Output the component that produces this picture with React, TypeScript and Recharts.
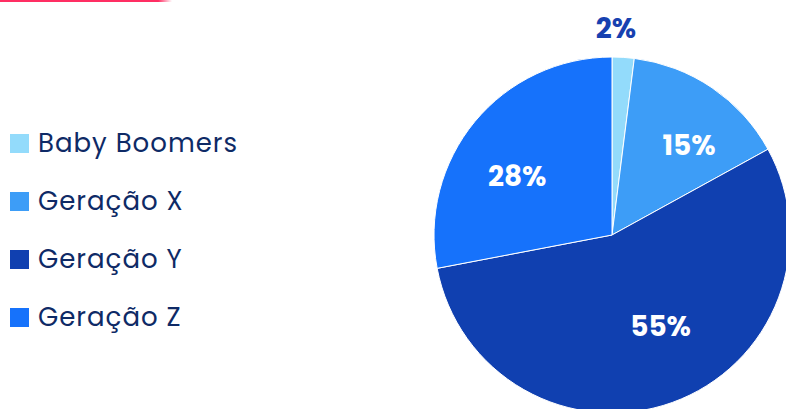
import { PieChart, Pie, Cell } from 'recharts';

const generations = ['Baby Boomers', 'Geração X', 'Geração Y', 'Geração Z'];
const shares = [2, 15, 55, 28];
const colors = ['#93dbfb', '#3d9df7', '#1040b0', '#1672fb'];

const data = generations.map((name, i) => ({ name, value: shares[i] }));

// small visual nudges so the labels sit where the original puts them
const labelNudge: [number, number][] = [[-9, 0], [13, 5], [10, -16], [-7, 14]];

const RADIAN = Math.PI / 180;
const FONT = "Poppins, 'Open Sans', sans-serif";

const renderLabel = (props: any) => {
  const { cx, cy, midAngle, outerRadius, percent, value, index } = props;
  const small = percent < 0.05;
  const r = small ? outerRadius + 29 : outerRadius * 0.64;
  const [dx, dy] = labelNudge[index] || [0, 0];
  const x = cx + r * Math.cos(-midAngle * RADIAN) + dx;
  const y = cy + r * Math.sin(-midAngle * RADIAN) + dy;
  return (
    <text
      x={x}
      y={y}
      textAnchor="middle"
      dominantBaseline="central"
      fill={small ? '#1741b0' : '#ffffff'}
      fontFamily={FONT}
      fontWeight={700}
      fontSize={28}
    >
      {`${value}%`}
    </text>
  );
};

export default function App() {
  return (
    <div style={{ position: 'absolute', left: 0, top: 0, width: 786, height: 409, background: '#fff', overflow: 'hidden' }}>
      <div
        style={{
          position: 'absolute',
          left: 0,
          top: 0,
          width: 172,
          height: 2,
          background: 'linear-gradient(to right, #ff2e63 92%, rgba(255,46,99,0))',
        }}
      />
      {/* legend */}
      <div style={{ position: 'absolute', left: 10, top: 114 }}>
        {data.map((d, i) => (
          <div
            key={d.name}
            style={{ display: 'flex', alignItems: 'center', height: 58, fontFamily: FONT, fontSize: 26, color: '#0e2a66', letterSpacing: 1, whiteSpace: 'nowrap' }}
          >
            <span style={{ width: 19, height: 19, background: colors[i], marginRight: 9, flexShrink: 0 }} />
            {d.name}
          </div>
        ))}
      </div>
      <PieChart width={786} height={409} margin={{ top: 0, right: 0, bottom: 0, left: 0 }}>
        <Pie
          data={data}
          dataKey="value"
          nameKey="name"
          cx={612}
          cy={235}
          outerRadius={178}
          startAngle={90}
          endAngle={-270}
          stroke="#ffffff"
          strokeWidth={1}
          label={renderLabel}
          labelLine={false}
          isAnimationActive={false}
        >
          {data.map((d, i) => (
            <Cell key={d.name} fill={colors[i]} />
          ))}
        </Pie>
      </PieChart>
    </div>
  );
}
